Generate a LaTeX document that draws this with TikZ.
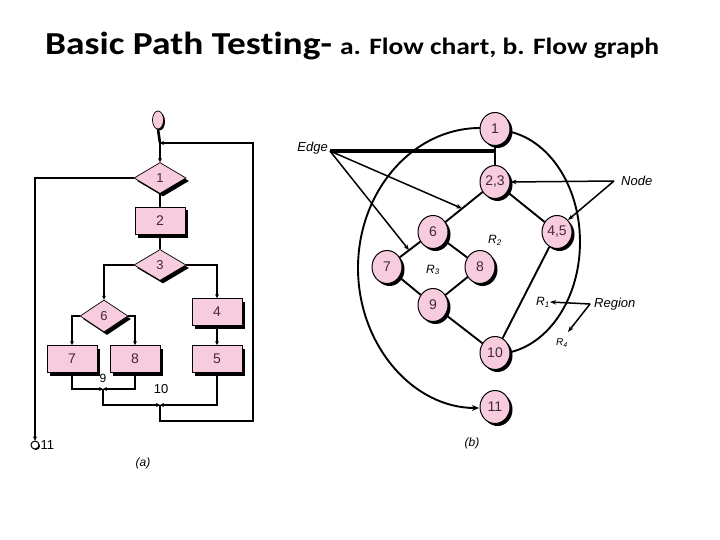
\documentclass[tikz,border=0pt]{standalone}
\usepackage{fontspec}
\setmainfont{Carlito}[Ligatures=NoCommon]
\newfontfamily\lblfont{Liberation Sans}
\usetikzlibrary{shapes.geometric,shadows,arrows.meta,calc}
\definecolor{pinkfill}{RGB}{247,204,222}
\definecolor{nodetext}{RGB}{70,40,50}
\tikzset{
  fcshadow/.style={drop shadow={shadow xshift=3pt,shadow yshift=-3pt,fill=black,opacity=1}},
  fcbox/.style={rectangle,draw=black,line width=0.7pt,fill=pinkfill,minimum width=50pt,minimum height=27pt,inner sep=0pt,fcshadow,font=\lblfont\fontsize{14}{14}\selectfont,text=nodetext},
  fcdia/.style={diamond,draw=black,line width=0.7pt,fill=pinkfill,minimum width=52pt,minimum height=31pt,aspect=1.7,inner sep=0pt,fcshadow,font=\lblfont\fontsize{13}{13}\selectfont,text=nodetext},
  fcline/.style={line width=2.6pt},
  fcarrow/.style={line width=2.6pt,-{Stealth[length=4pt,width=4pt]}},
  gnode/.style={ellipse,draw=black,line width=1pt,fill=pinkfill,minimum width=30pt,minimum height=33pt,inner sep=0pt,drop shadow={shadow xshift=2.5pt,shadow yshift=-2.5pt,fill=black,opacity=1},font=\lblfont\fontsize{14}{14}\selectfont,text=nodetext},
  gedge/.style={line width=1.9pt},
  lblarrow/.style={line width=1.5pt,-{Stealth[length=6pt,width=4.5pt]}},
  lbl/.style={font=\lblfont\itshape\fontsize{13}{13}\selectfont,inner sep=0pt},
  rlbl/.style={font=\lblfont\itshape\fontsize{12}{12}\selectfont,inner sep=0pt},
}
\begin{document}
\begin{tikzpicture}[x=1pt,y=-1pt]
\useasboundingbox (0,0) rectangle (720,540);
% title
\node[anchor=base west,inner sep=0pt] (title) at (45,55)
  {\scalebox{1.17}[1]{\bfseries\fontsize{32}{33}\selectfont Basic Path Testing-\hspace{7pt}\fontsize{23.5}{24}\selectfont a. Flow chart, b. Flow graph}};

% ---------- (a) flow chart ----------
\node[ellipse,draw=black,line width=0.7pt,fill=pinkfill,minimum width=11pt,minimum height=18pt,inner sep=0pt,drop shadow={shadow xshift=1.5pt,shadow yshift=-1.5pt,fill=black,opacity=1}] (st) at (158,120) {};
\node[fcdia] (d1) at (160,178) {1};
\node[fcbox] (b2) at (160,221) {2};
\node[fcdia] (d3) at (160,265) {3};
\node[fcdia,minimum width=48pt,minimum height=32pt] (d6) at (104,316) {6};
\node[fcbox] (b4) at (217,312) {4};
\node[fcbox] (b5) at (217,359) {5};
\node[fcbox] (b7) at (72,359) {7};
\node[fcbox] (b8) at (135,359) {8};
\coordinate (j9) at (103,389);
\coordinate (j10) at (160,405);
\coordinate (jtop) at (160,143);
\node[circle,draw=black,line width=1pt,fill=white,minimum size=8pt,inner sep=0pt,drop shadow={shadow xshift=1pt,shadow yshift=-1pt,fill=black,opacity=1}] (en) at (35,445) {};
\node[anchor=west,inner sep=0pt,font=\lblfont\fontsize{13}{13}\selectfont] (l11) at ([xshift=1pt]en.east) {11};
\node[inner sep=0pt,font=\lblfont\fontsize{12}{12}\selectfont] (l9) at (103,378) {9};
\node[inner sep=0pt,font=\lblfont\fontsize{13}{13}\selectfont] (l10) at (161,389) {10};
\node[inner sep=0pt,font=\lblfont\itshape\fontsize{12}{12}\selectfont] (la) at (143,463) {(a)};

\draw[fcline] (st.south) -- (jtop);
\draw[fcarrow] (jtop) -- (d1.north);
\draw[fcarrow] (d1.west) -| (en.north);
\draw[fcline] (d1.south) -- (b2.north);
\draw[fcline] (b2.south) -- (d3.north);
\draw[fcarrow] (d3.west) -| (d6.north);
\draw[fcarrow] (d3.east) -| (b4.north);
\draw[fcarrow] (d6.west) -| (b7.north);
\draw[fcarrow] (d6.east) -| (b8.north);
\draw[fcarrow] (b4.south) -- (b5.north);
\draw[fcarrow] (b7.south) |- (j9);
\draw[fcarrow] (b8.south) |- (j9);
\draw[fcarrow] (j9) |- (j10);
\draw[fcarrow] (b5.south) |- (j10);
\draw[fcarrow] (j10) -- (160,421) -| (253,143) -- (jtop);

% ---------- (b) flow graph ----------
\coordinate (n1c) at (495,129);
\coordinate (n11c) at (495,407);
\coordinate (n10c) at (495,353);
% outer arcs (drawn first, nodes on top)
\draw[gedge,-{Stealth[length=7pt,width=6pt]}] (480,128) .. controls (413,128) and (358,191) .. (358,268)
   .. controls (358,345) and (413,408) .. (479,408);
\draw[gedge] (495,130) .. controls (542,130) and (580,180) .. (580,242)
   .. controls (580,304) and (542,354) .. (495,354);

\node[gnode] (n1) at (n1c) {1};
\node[gnode] (n23) at (495,182) {2,3};
\node[gnode] (n45) at (557,232) {4,5};
\node[gnode] (n6) at (433,232) {6};
\node[gnode] (n7) at (387,267) {7};
\node[gnode] (n8) at (480,267) {8};
\node[gnode] (n9) at (433,305) {9};
\node[gnode] (n10) at (n10c) {10};
\node[gnode] (n11) at (n11c) {11};

\draw[gedge] (n1) -- (n23);
\draw[gedge] (n23) -- (n6);
\draw[gedge] (n23) -- (n45);
\draw[gedge] (n6) -- (n7);
\draw[gedge] (n6) -- (n8);
\draw[gedge] (n7) -- (n9);
\draw[gedge] (n8) -- (n9);
\draw[gedge] (n9) -- (n10);
\draw[gedge] (n45) -- (n10);

% labels
\node[lbl,anchor=east] (edge) at (328,148) {Edge};
\coordinate (eg) at (330,151);
\coordinate (e1) at (495,151);
\coordinate (e2) at ($(n23)!0.53!(n6)$);
\coordinate (e3) at ($(n6)!0.52!(n7)$);
\draw[line width=3.5pt] (eg) -- (e1);
\draw[lblarrow] (eg) -- (e2);
\draw[lblarrow] (eg) -- (e3);

\node[lbl,anchor=west] (nodelbl) at (621,181) {Node};
\coordinate (ng) at (614,181);
\draw[lblarrow] (ng) -- (n23.east);
\draw[lblarrow] (ng) -- (n45.north east);

\node[lbl,anchor=west] (region) at (594,304) {Region};
\coordinate (rg) at (590,304);
\node[rlbl] (r1) at (543,302) {R\textsubscript{1}};
\node[rlbl] (r2) at (495,240) {R\textsubscript{2}};
\node[rlbl] (r3) at (433,270) {R\textsubscript{3}};
\node[rlbl,font=\lblfont\itshape\fontsize{10}{10}\selectfont] (r4) at (562,343) {R\textsubscript{4}};
\coordinate (r4t) at (568,332);
\draw[lblarrow] (rg) -- (r1.east);
\draw[lblarrow] (rg) -- (r4t);

\node[inner sep=0pt,font=\lblfont\itshape\fontsize{12}{12}\selectfont] (lb) at (472,443) {(b)};
\end{tikzpicture}
\end{document}
